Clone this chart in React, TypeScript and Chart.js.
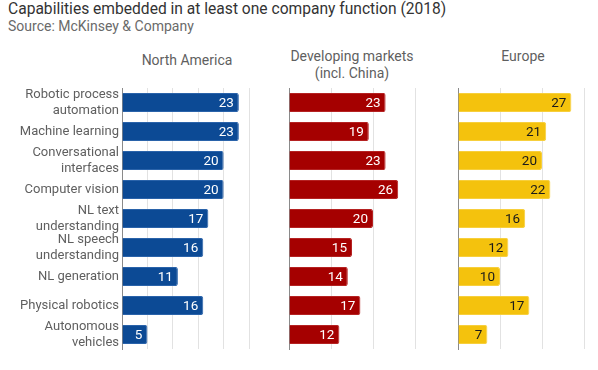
import React, { useEffect, useRef } from "react";
import { Chart, registerables } from "chart.js";

Chart.register(...registerables);

const categories: (string | string[])[] = [
  ["Robotic process", "automation"],
  "Machine learning",
  ["Conversational", "interfaces"],
  "Computer vision",
  ["NL text", "understanding"],
  ["NL speech", "understanding"],
  "NL generation",
  "Physical robotics",
  ["Autonomous", "vehicles"],
];

const northAmerica = [23, 23, 20, 20, 17, 16, 11, 16, 5];
const developing = [23, 19, 23, 26, 20, 15, 14, 17, 12];
const europe = [27, 21, 20, 22, 16, 12, 10, 17, 7];

const panelTitles = ["North America", "Developing markets\n(incl. China)", "Europe"];
const axisMax = [25, 30, 30];
const axisStep = [5, 10, 10];

const FONT = "Roboto, 'Noto Sans', Arial, sans-serif";

const valueLabels = {
  id: "valueLabels",
  afterDatasetsDraw(chart: any, _args: any, opts: any) {
    const ctx = chart.ctx;
    const meta = chart.getDatasetMeta(0);
    const data = chart.data.datasets[0].data;
    ctx.save();
    ctx.font = `13.5px ${FONT}`;
    ctx.fillStyle = opts.color || "#fff";
    ctx.textAlign = "right";
    ctx.textBaseline = "middle";
    meta.data.forEach((bar: any, i: number) => {
      ctx.fillText(String(data[i]), bar.x - 5, bar.y + 1);
    });
    ctx.restore();
  },
};

function makeConfig(
  values: number[],
  color: string,
  border: string,
  labelColor: string,
  max: number,
  step: number,
  padLeft: number,
  yWidth: number,
  padRight: number,
  showLabels: boolean
): any {
  return {
    type: "bar",
    data: {
      labels: categories,
      datasets: [
        {
          data: values,
          backgroundColor: color,
          borderColor: border,
          borderWidth: 1,
          borderRadius: 2,
          borderSkipped: "start",
          barPercentage: 0.66,
          categoryPercentage: 1,
        },
      ],
    },
    options: {
      indexAxis: "y",
      animation: false,
      responsive: false,
      events: [],
      layout: { padding: { left: padLeft, right: padRight, top: 88, bottom: 21 } },
      plugins: {
        legend: { display: false },
        tooltip: { enabled: false },
        title: { display: false },
        valueLabels: { color: labelColor },
      },
      scales: {
        x: {
          min: 0,
          max: max,
          ticks: { display: false, stepSize: step },
          grid: { color: "#e2e2e2", drawTicks: false, lineWidth: 1 },
          border: { display: false },
          afterFit: (s: any) => {
            s.height = 0;
          },
        },
        y: {
          ticks: {
            display: showLabels,
            color: "#5f5f5f",
            font: { family: FONT, size: 13, lineHeight: 1.23 },
            padding: 3,
            autoSkip: false,
          },
          grid: { display: false, drawTicks: false },
          border: { display: true, color: "#8a8a8a", width: 1 },
          afterFit: (s: any) => {
            s.width = yWidth;
          },
        },
      },
    },
    plugins: [valueLabels],
  };
}

export default function App() {
  const c1 = useRef<HTMLCanvasElement>(null);
  const c2 = useRef<HTMLCanvasElement>(null);
  const c3 = useRef<HTMLCanvasElement>(null);

  useEffect(() => {
    document.body.style.margin = "0";
    const charts = [
      new Chart(
        c1.current!,
        makeConfig(northAmerica, "#0c4a95", "#2a63aa", "#ffffff", axisMax[0], axisStep[0], 0, 122, 598 - 249, true)
      ),
      new Chart(
        c2.current!,
        makeConfig(developing, "#a50000", "#b52222", "#ffffff", axisMax[1], axisStep[1], 280, 9, 598 - 415, false)
      ),
      new Chart(
        c3.current!,
        makeConfig(europe, "#f4c20d", "#f7cf3c", "#1a1a1a", axisMax[2], axisStep[2], 440, 18, 598 - 584, false)
      ),
    ];
    return () => charts.forEach((c) => c.destroy());
  }, []);

  const canvasStyle: React.CSSProperties = { position: "absolute", left: 0, top: 0 };
  const headerStyle: React.CSSProperties = {
    position: "absolute",
    textAlign: "center",
    fontFamily: FONT,
    fontSize: "14px",
    lineHeight: "17px",
    color: "#5f5f5f",
    whiteSpace: "pre",
  };

  return (
    <div style={{ position: "relative", width: 598, height: 370, background: "#fff", overflow: "hidden" }}>
      <div
        style={{
          position: "absolute",
          left: 8,
          top: 0,
          fontFamily: FONT,
          fontSize: "15.6px",
          color: "#333",
          whiteSpace: "nowrap",
        }}
      >
        Capabilities embedded in at least one company function (2018)
      </div>
      <div
        style={{
          position: "absolute",
          left: 8,
          top: 18,
          fontFamily: FONT,
          fontSize: "14px",
          color: "#6a6a6a",
          whiteSpace: "nowrap",
        }}
      >
        Source: McKinsey &amp; Company
      </div>
      <div style={{ ...headerStyle, left: 122, width: 130, top: 52 }}>{panelTitles[0]}</div>
      <div style={{ ...headerStyle, left: 289, width: 126, top: 48 }}>{panelTitles[1]}</div>
      <div style={{ ...headerStyle, left: 458, width: 130, top: 48 }}>{panelTitles[2]}</div>
      <canvas ref={c1} width={598} height={370} style={canvasStyle} />
      <canvas ref={c2} width={598} height={370} style={canvasStyle} />
      <canvas ref={c3} width={598} height={370} style={canvasStyle} />
    </div>
  );
}
